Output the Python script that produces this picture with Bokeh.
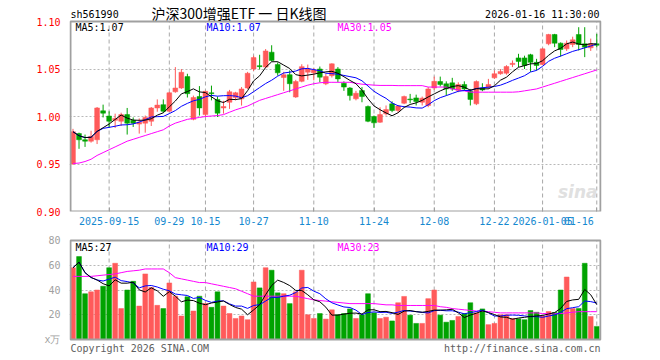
import numpy as np
import pandas as pd
from bokeh.plotting import figure
from bokeh.models import Range1d, FixedTicker, Label, NumeralTickFormatter
from bokeh.layouts import column
from bokeh.embed import file_html
from bokeh.resources import INLINE

# ---------------- data ----------------
open_ = [0.950, 0.982, 0.9755, 0.974, 0.9755, 1.006, 1.0005, 0.996, 0.995, 1.002,
         0.996, 0.992, 0.993, 0.995, 1.009, 1.0125, 1.0055, 1.026, 1.030, 1.042,
         0.997, 1.021, 1.002, 1.025, 1.018, 1.009, 1.015, 1.020, 1.0186, 1.030,
         1.050, 1.0535, 1.052, 1.0677, 1.0547, 1.041, 1.044, 1.0205, 1.037, 1.0467,
         1.046, 1.050, 1.0344, 1.043, 1.050, 1.035, 1.030, 1.0186, 1.0273, 1.0105,
         1.000, 0.994, 1.0028, 1.0133, 1.0063, 1.014, 1.0182, 1.0196, 1.015, 1.0116,
         1.030, 1.0368, 1.0344, 1.0354, 1.0273, 1.0337, 1.0266, 1.0133, 1.0298, 1.031,
         1.0407, 1.045, 1.0456, 1.0547, 1.0617, 1.0617, 1.065, 1.057, 1.0547, 1.0765,
         1.0863, 1.0772, 1.0712, 1.0758, 1.0863, 1.0765, 1.0723, 1.0765]
close = [0.984, 0.9755, 0.974, 0.979, 1.009, 1.0035, 0.995, 0.998, 1.002, 0.993,
         0.993, 0.994, 0.999, 1.009, 1.012, 1.0055, 1.025, 1.030, 1.0465, 1.024,
         1.020, 1.009, 1.0265, 1.024, 1.0035, 1.0105, 1.026, 1.025, 1.029, 1.0455,
         1.062, 1.0525, 1.069, 1.059, 1.046, 1.044, 1.0345, 1.0368, 1.0525, 1.050,
         1.049, 1.0414, 1.042, 1.0554, 1.0396, 1.031, 1.022, 1.0245, 1.021, 0.995,
         0.9933, 1.002, 1.0073, 1.0063, 1.011, 1.021, 1.0178, 1.0158, 1.0193, 1.029,
         1.037, 1.0337, 1.029, 1.029, 1.0337, 1.029, 1.018, 1.0368, 1.028, 1.0337,
         1.045, 1.0475, 1.0526, 1.056, 1.058, 1.0537, 1.057, 1.0537, 1.0712, 1.0863,
         1.0772, 1.0705, 1.0772, 1.0807, 1.0758, 1.073, 1.0765, 1.075]
high = [0.987, 0.983, 0.981, 0.985, 1.010, 1.0125, 1.0055, 1.003, 1.004, 1.009,
        0.999, 0.998, 1.001, 1.010, 1.018, 1.018, 1.026, 1.052, 1.050, 1.045,
        1.022, 1.032, 1.027, 1.0325, 1.021, 1.0165, 1.028, 1.026, 1.031, 1.047,
        1.064, 1.065, 1.071, 1.075, 1.057, 1.047, 1.0485, 1.0386, 1.055, 1.0547,
        1.051, 1.0526, 1.045, 1.056, 1.052, 1.037, 1.031, 1.027, 1.031, 1.0116,
        1.001, 1.0098, 1.0116, 1.016, 1.012, 1.022, 1.0238, 1.023, 1.021, 1.031,
        1.042, 1.042, 1.037, 1.0407, 1.036, 1.037, 1.029, 1.038, 1.035, 1.0396,
        1.0484, 1.050, 1.054, 1.059, 1.066, 1.064, 1.066, 1.0607, 1.072, 1.087,
        1.087, 1.078, 1.080, 1.084, 1.094, 1.094, 1.082, 1.087]
low = [0.949, 0.966, 0.968, 0.9725, 0.971, 0.999, 0.988, 0.988, 0.990, 0.981,
       0.989, 0.982, 0.983, 0.990, 1.005, 1.004, 1.005, 1.025, 1.029, 1.020,
       0.996, 1.001, 1.000, 1.017, 0.9995, 1.003, 1.008, 1.017, 1.0115, 1.029,
       1.048, 1.0495, 1.051, 1.058, 1.043, 1.027, 1.0255, 1.0196, 1.036, 1.0386,
       1.038, 1.036, 1.033, 1.041, 1.036, 1.027, 1.0168, 1.017, 1.015, 0.994,
       0.988, 0.9933, 1.001, 1.0045, 1.004, 1.013, 1.014, 1.0116, 1.0116, 1.0098,
       1.028, 1.0316, 1.022, 1.027, 1.0256, 1.027, 1.0116, 1.012, 1.0266, 1.029,
       1.0396, 1.044, 1.044, 1.052, 1.052, 1.050, 1.047, 1.0484, 1.054, 1.075,
       1.073, 1.063, 1.069, 1.073, 1.0695, 1.0625, 1.069, 1.073]
volume = [58, 67, 37, 38.5, 40, 43, 58, 61.6, 25, 40,
          47, 27, 53, 42, 27.6, 25, 45.7, 35, 19, 34.5,
          23, 35, 29, 26, 38.5, 27, 21, 17, 19, 16,
          46.5, 41.7, 58, 56, 37.7, 37, 29, 38.5, 56, 20,
          17, 21, 16.5, 24, 20, 21, 24.7, 17, 20, 37,
          21.5, 17, 18, 15, 29.7, 34.8, 19.7, 13, 13, 33,
          40, 19.7, 14, 15.4, 18.6, 21, 29.7, 21.5, 24.7, 12,
          13, 20, 20, 17, 16.7, 16, 23.4, 22, 19, 22.6,
          21.8, 40, 50.5, 25, 25, 61.6, 18.6, 10.6]
ma30_price = [0.9505, 0.951, 0.9526, 0.955, 0.959, 0.962, 0.965, 0.968, 0.971, 0.974,
              0.976, 0.978, 0.980, 0.982, 0.984, 0.986, 0.990, 0.993, 0.995, 0.997,
              0.998, 0.999, 1.000, 1.0005, 1.001, 1.002, 1.0045, 1.007, 1.009, 1.011,
              1.014, 1.017, 1.019, 1.021, 1.023, 1.025, 1.027, 1.029, 1.031, 1.033,
              1.0345, 1.0355, 1.036, 1.036, 1.036, 1.036, 1.036, 1.035, 1.034, 1.0335,
              1.033, 1.0327, 1.0327, 1.0327, 1.0325, 1.0325, 1.0325, 1.0325, 1.0325, 1.031,
              1.031, 1.031, 1.031, 1.029, 1.028, 1.027, 1.0256, 1.0256, 1.0256, 1.0256,
              1.0256, 1.0256, 1.0256, 1.0256, 1.026, 1.027, 1.028, 1.029, 1.031, 1.033,
              1.035, 1.037, 1.039, 1.041, 1.043, 1.045, 1.047, 1.049]
ma30_vol = [51, 51, 51, 51, 51.5, 52, 52.5, 53, 54, 55,
            55.5, 56, 57, 57, 57, 57, 54, 50, 49, 48,
            47, 46, 46, 45, 44, 43, 42, 41, 39, 37,
            35, 35, 35, 35, 35, 35, 35, 35, 34, 33,
            32, 31.5, 31, 30.5, 30, 29.5, 29, 29, 29, 29,
            29, 28.5, 28, 28, 27.5, 27.5, 27.5, 27.5, 27.5, 27.5,
            27.5, 26.5, 26, 25, 24.5, 24, 23.5, 23, 23, 22.5,
            22, 21.5, 21.5, 21.5, 21.5, 21.5, 21.5, 21.5, 21, 20.8,
            20.8, 21, 21.5, 22, 22.5, 22.5, 22.5, 22.5]
tick_idx = [6, 16, 22, 30, 40, 50, 60, 70, 78, 87]
tick_labels = ["2025-09-15", "09-29", "10-15", "10-27", "11-10", "11-24",
               "12-08", "12-22", "2026-01-05", "01-16"]
price_ticks = [0.90, 0.95, 1.00, 1.05, 1.10]
vol_ticks = [0, 20, 40, 60, 80]
vol_tick_labels = ["x万", "20", "40", "60", "80"]

# ---------------- derived ----------------
n = len(close)
idx = np.arange(n)
o = np.array(open_); c = np.array(close)
up = c >= o
RED = "#ff5a5a"
GREEN = "#00a300"
colors = [RED if u else GREEN for u in up]
body_top = np.maximum(o, c)
body_bot = np.minimum(o, c)
thin = (body_top - body_bot) < 0.0008
body_top = np.where(thin, (o + c) / 2 + 0.0004, body_top)
body_bot = np.where(thin, (o + c) / 2 - 0.0004, body_bot)
ma5 = pd.Series(close).rolling(5, min_periods=1).mean()
ma10 = pd.Series(close).rolling(10, min_periods=1).mean()
vma5 = pd.Series(volume).rolling(5, min_periods=1).mean()
vma10 = pd.Series(volume).rolling(10, min_periods=1).mean()

# ---------------- geometry (picture pixels) ----------------
W = 650
L, R = 70, 600          # visual panel left/right
PT, PB = 21, 211        # price panel top/bottom
VT, VB = 240, 339       # volume panel top/bottom
XA, XB = -0.415, 87.62  # index at L and R
YA, YB = 0.90, 1.10
VA, VB_ = 0, 80
H1 = 230                # height of price figure
H2 = 128                # height of volume figure

def xd(px):
    return XA + (px - L) / (R - L) * (XB - XA)

def yp(py):
    return YB - (py - PT) / (PB - PT) * (YB - YA)

def yv(py):
    return VB_ - (py - VT) / (VB - VT) * (VB_ - VA)

MONO = "DejaVu Sans Mono"
GRID_V = "#a8a8a8"
GRID_H = "#b8b8b8"
FRAME = "#a0a0a0"
BLUE_TXT = "#1589d0"

def lab(p, text, x, y, color="#000000", size="10px", font=MONO, align="left", style="normal"):
    p.add_layout(Label(x=x, y=y, text=text, text_color=color, text_font_size=size,
                       text_font=font, text_align=align, text_baseline="middle",
                       text_font_style=style))

def style_yaxis(p, color):
    p.yaxis.axis_line_color = None
    p.yaxis.major_tick_line_color = None
    p.yaxis.minor_tick_line_color = None
    p.yaxis.major_label_text_font = MONO
    p.yaxis.major_label_text_font_size = "10px"
    p.yaxis.major_label_text_color = color
    p.yaxis.major_label_standoff = 3

# ---------------- price panel ----------------
p1 = figure(width=W, height=H1,
            x_range=Range1d(xd(L - 1), xd(R + 1)), y_range=Range1d(YA, yp(0)),
            output_backend="svg", toolbar_location=None,
            min_border_left=L - 1, min_border_right=W - (R + 1),
            min_border_top=0, min_border_bottom=H1 - PB)
p1.background_fill_color = "white"
p1.border_fill_color = "white"
p1.outline_line_color = None
p1.xgrid.visible = False

p1.xaxis.ticker = FixedTicker(ticks=tick_idx)
last_lab = tick_labels[-1] + "\u00a0" * 6
p1.xaxis.major_label_overrides = {t: (l if t != tick_idx[-1] else last_lab)
                                  for t, l in zip(tick_idx, tick_labels)}
p1.xaxis.axis_line_color = None
p1.xaxis.major_tick_in = 4
p1.xaxis.major_tick_out = 0
p1.xaxis.major_tick_line_color = FRAME
p1.xaxis.minor_tick_line_color = None
p1.xaxis.major_label_text_font = MONO
p1.xaxis.major_label_text_font_size = "10px"
p1.xaxis.major_label_text_color = BLUE_TXT
p1.xaxis.major_label_standoff = 4

p1.yaxis.ticker = FixedTicker(ticks=price_ticks)
p1.yaxis.formatter = NumeralTickFormatter(format="0.00")
style_yaxis(p1, "#ff0000")

p1.ygrid.ticker = FixedTicker(ticks=[0.95, 1.00, 1.05])
p1.ygrid.grid_line_color = GRID_H
p1.ygrid.grid_line_dash = "2 2"
p1.segment(x0=tick_idx, y0=YA, x1=tick_idx, y1=YB, color=GRID_V, line_dash="4 3", line_width=1)

p1.segment(x0=idx, y0=low, x1=idx, y1=high, color=colors, line_width=1)
p1.vbar(x=idx, top=body_top, bottom=body_bot, width=0.8, fill_color=colors, line_color=colors, line_width=0.5)
p1.line(idx, ma30_price, color="#ff00ff", line_width=1)
p1.line(idx, ma10, color="#0000ff", line_width=1)
p1.line(idx, ma5, color="#000000", line_width=1)
p1.quad(left=XA, right=XB, bottom=YA, top=YB, fill_color=None, line_color=FRAME, line_width=2)

# header and legend texts
lab(p1, "sh561990", xd(70), yp(13.5))
lab(p1, "沪深300增强ETF 一 日K线图", xd(151), yp(12.5), size="14px", font="Noto Sans CJK SC")
lab(p1, "2026-01-16 11:30:00", xd(599), yp(13.5), align="right")
lab(p1, "MA5:1.07", xd(75), yp(27))
lab(p1, "MA10:1.07", xd(206), yp(27), color="#0000ff")
lab(p1, "MA30:1.05", xd(337), yp(27), color="#ff00ff")
lab(p1, "sina", xd(597), yp(191), color="#e0e0e0", size="17px", font="DejaVu Sans",
    align="right", style="bold italic")

# ---------------- volume panel ----------------
p2 = figure(width=W, height=H2,
            x_range=p1.x_range, y_range=Range1d(yv(H1 + H2), yv(H1 + 4)),
            output_backend="svg", toolbar_location=None, x_axis_location=None,
            min_border_left=L - 1, min_border_right=W - (R + 1),
            min_border_top=4, min_border_bottom=0)
p2.background_fill_color = "white"
p2.border_fill_color = "white"
p2.outline_line_color = None
p2.xgrid.visible = False

p2.yaxis.ticker = FixedTicker(ticks=vol_ticks)
p2.yaxis.major_label_overrides = dict(zip(vol_ticks, vol_tick_labels))
style_yaxis(p2, "#a0a0a0")

p2.ygrid.ticker = FixedTicker(ticks=[20, 40, 60])
p2.ygrid.grid_line_color = GRID_H
p2.ygrid.grid_line_dash = "2 2"
p2.segment(x0=tick_idx, y0=VA, x1=tick_idx, y1=VB_, color=GRID_V, line_dash="4 3", line_width=1)

p2.vbar(x=idx, top=volume, bottom=0, width=0.8, fill_color=colors, line_color=colors, line_width=0.5)
p2.line(idx, ma30_vol, color="#ff00ff", line_width=1)
p2.line(idx, vma10, color="#0000ff", line_width=1)
p2.line(idx, vma5, color="#000000", line_width=1)
p2.quad(left=XA, right=XB, bottom=VA, top=VB_, fill_color=None, line_color=FRAME, line_width=2)

lab(p2, "MA5:27", xd(75), yv(247))
lab(p2, "MA10:29", xd(206), yv(247), color="#0000ff")
lab(p2, "MA30:23", xd(337), yv(247), color="#ff00ff")
lab(p2, "Copyright 2026 SINA.COM", xd(70), yv(348), color="#606060")
lab(p2, "http://finance.sina.com.cn", xd(600), yv(348), color="#606060", align="right")

layout = column(p1, p2, spacing=0)
open("out.html", "w").write(file_html(layout, INLINE))
